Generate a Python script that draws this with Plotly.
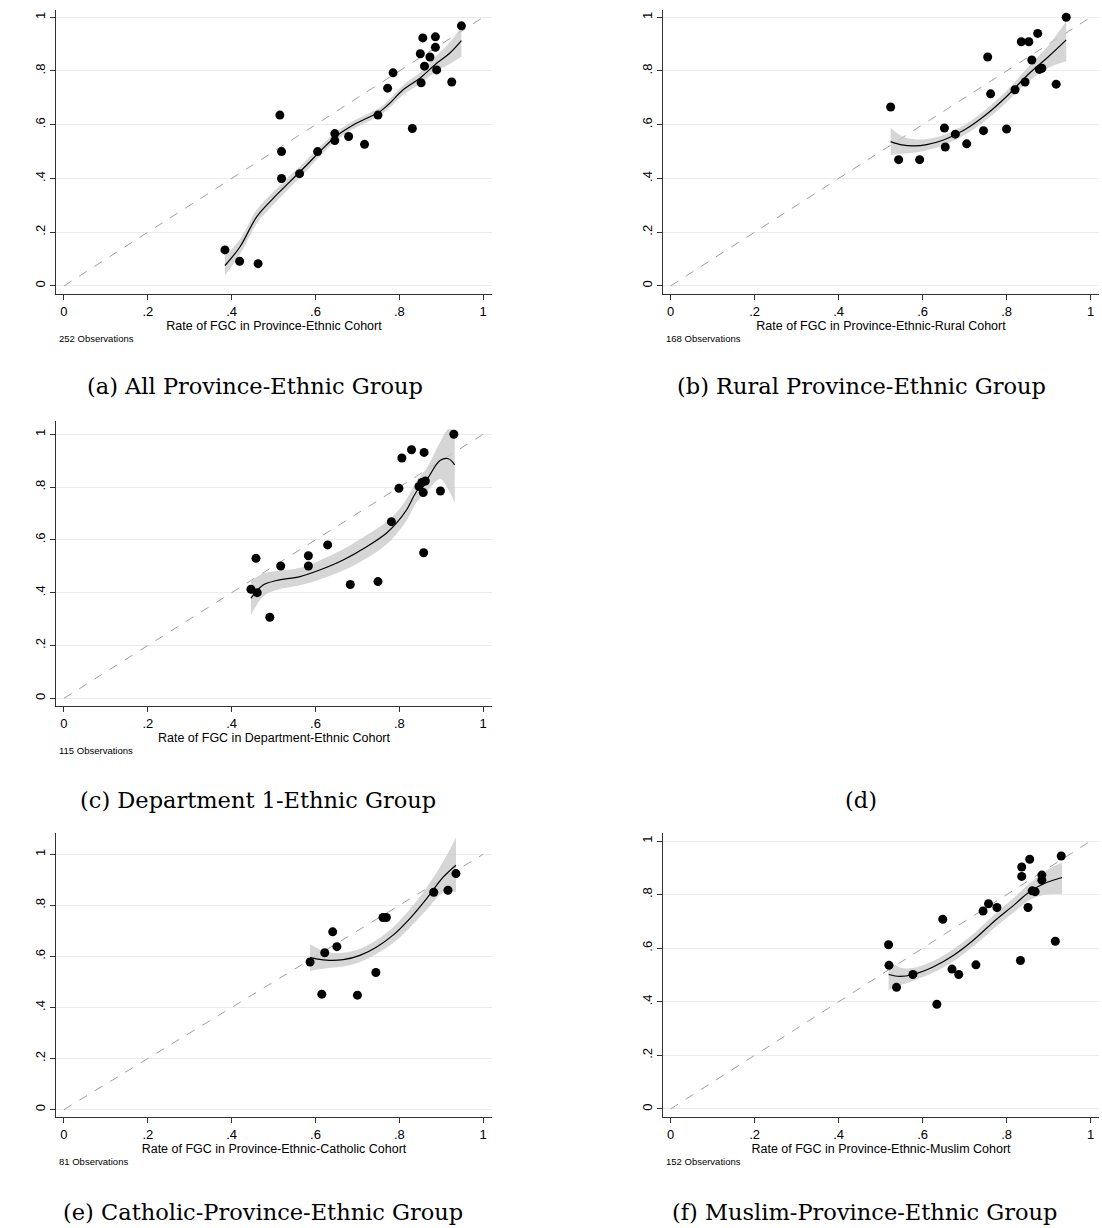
import plotly.graph_objects as go

W, H = 1102, 1228

# ---------------- data ----------------
# (a) All Province-Ethnic Group
a_x = [0.384, 0.419, 0.463, 0.515, 0.519, 0.519, 0.562, 0.605, 0.646, 0.646, 0.679, 0.717, 0.749,
       0.772, 0.785, 0.831, 0.850, 0.852, 0.856, 0.860, 0.873, 0.886, 0.886, 0.889, 0.925, 0.948]
a_y = [0.134, 0.092, 0.083, 0.636, 0.500, 0.400, 0.418, 0.500, 0.567, 0.541, 0.556, 0.527, 0.636,
       0.736, 0.793, 0.586, 0.864, 0.756, 0.923, 0.818, 0.852, 0.927, 0.888, 0.804, 0.759, 0.968]
a_fx = [0.384, 0.420, 0.460, 0.499, 0.539, 0.579, 0.610, 0.650, 0.690, 0.730, 0.754, 0.777, 0.809, 0.849, 0.889, 0.920, 0.948]
a_fy = [0.076, 0.146, 0.258, 0.326, 0.388, 0.450, 0.500, 0.558, 0.599, 0.630, 0.649, 0.680, 0.730, 0.773, 0.829, 0.866, 0.913]
a_lo = [0.040, 0.118, 0.232, 0.302, 0.366, 0.430, 0.482, 0.542, 0.584, 0.615, 0.634, 0.664, 0.712, 0.752, 0.800, 0.826, 0.853]
a_hi = [0.112, 0.174, 0.284, 0.350, 0.410, 0.470, 0.518, 0.574, 0.614, 0.645, 0.664, 0.696, 0.748, 0.794, 0.858, 0.906, 0.965]

# (b) Rural Province-Ethnic Group
b_x = [0.524, 0.543, 0.593, 0.652, 0.654, 0.678, 0.705, 0.745, 0.755, 0.762, 0.800, 0.820, 0.835,
       0.844, 0.853, 0.860, 0.874, 0.878, 0.884, 0.918, 0.942]
b_y = [0.666, 0.470, 0.470, 0.588, 0.517, 0.565, 0.529, 0.578, 0.852, 0.715, 0.584, 0.730, 0.909,
       0.759, 0.909, 0.841, 0.940, 0.806, 0.810, 0.751, 1.000]
b_fx = [0.524, 0.550, 0.580, 0.610, 0.650, 0.700, 0.750, 0.800, 0.850, 0.900, 0.942]
b_fy = [0.537, 0.525, 0.521, 0.526, 0.543, 0.581, 0.636, 0.705, 0.785, 0.854, 0.916]
b_lo = [0.486, 0.492, 0.496, 0.505, 0.524, 0.562, 0.616, 0.684, 0.758, 0.812, 0.836]
b_hi = [0.588, 0.558, 0.546, 0.547, 0.562, 0.600, 0.656, 0.726, 0.812, 0.896, 0.985]

# (c) Department 1-Ethnic Group
c_x = [0.446, 0.458, 0.461, 0.491, 0.517, 0.583, 0.583, 0.629, 0.683, 0.749, 0.781, 0.799, 0.806,
       0.829, 0.847, 0.854, 0.857, 0.858, 0.859, 0.862, 0.898, 0.930]
c_y = [0.413, 0.530, 0.400, 0.307, 0.501, 0.540, 0.501, 0.581, 0.431, 0.442, 0.669, 0.795, 0.910,
       0.941, 0.802, 0.817, 0.779, 0.551, 0.931, 0.823, 0.785, 1.000]
c_fx = [0.446, 0.475, 0.507, 0.563, 0.610, 0.666, 0.722, 0.769, 0.793, 0.817, 0.841, 0.865, 0.897, 0.917, 0.932]
c_fy = [0.379, 0.429, 0.446, 0.461, 0.486, 0.524, 0.574, 0.625, 0.663, 0.713, 0.783, 0.827, 0.900, 0.907, 0.884]
c_lo = [0.315, 0.385, 0.410, 0.428, 0.450, 0.484, 0.530, 0.582, 0.622, 0.672, 0.742, 0.782, 0.830, 0.790, 0.740]
c_hi = [0.445, 0.473, 0.482, 0.494, 0.522, 0.564, 0.618, 0.668, 0.704, 0.754, 0.824, 0.872, 0.970, 1.020, 1.015]

# (e) Catholic-Province-Ethnic Group
e_x = [0.587, 0.615, 0.622, 0.641, 0.651, 0.700, 0.744, 0.761, 0.769, 0.882, 0.916, 0.935]
e_y = [0.578, 0.452, 0.614, 0.696, 0.638, 0.448, 0.537, 0.752, 0.752, 0.851, 0.859, 0.924]
e_fx = [0.587, 0.626, 0.666, 0.706, 0.746, 0.785, 0.825, 0.865, 0.905, 0.935]
e_fy = [0.595, 0.585, 0.587, 0.604, 0.637, 0.683, 0.748, 0.826, 0.911, 0.957]
e_lo = [0.543, 0.553, 0.560, 0.578, 0.610, 0.652, 0.712, 0.782, 0.850, 0.852]
e_hi = [0.647, 0.617, 0.614, 0.630, 0.664, 0.714, 0.784, 0.870, 0.972, 1.065]

# (f) Muslim-Province-Ethnic Group
f_x = [0.519, 0.520, 0.538, 0.577, 0.634, 0.648, 0.670, 0.686, 0.727, 0.744, 0.757, 0.777, 0.833,
       0.836, 0.836, 0.851, 0.855, 0.861, 0.868, 0.884, 0.884, 0.916, 0.930]
f_y = [0.613, 0.536, 0.454, 0.502, 0.391, 0.708, 0.522, 0.502, 0.538, 0.739, 0.766, 0.752, 0.554,
       0.903, 0.868, 0.752, 0.932, 0.814, 0.811, 0.873, 0.854, 0.626, 0.944]
f_fx = [0.519, 0.546, 0.577, 0.625, 0.673, 0.720, 0.768, 0.816, 0.855, 0.895, 0.932]
f_fy = [0.502, 0.495, 0.502, 0.530, 0.573, 0.629, 0.697, 0.759, 0.811, 0.845, 0.864]
f_lo = [0.443, 0.462, 0.478, 0.508, 0.550, 0.606, 0.672, 0.732, 0.780, 0.800, 0.802]
f_hi = [0.557, 0.528, 0.526, 0.552, 0.596, 0.652, 0.722, 0.786, 0.842, 0.890, 0.920]

tick_vals = [0, 0.2, 0.4, 0.6, 0.8, 1]
tick_text = ["0", ".2", ".4", ".6", ".8", "1"]
diag = [0, 1]

x_titles = ["Rate of FGC in Province-Ethnic Cohort",
            "Rate of FGC in Province-Ethnic-Rural Cohort",
            "Rate of FGC in Department-Ethnic Cohort",
            "Rate of FGC in Province-Ethnic-Catholic Cohort",
            "Rate of FGC in Province-Ethnic-Muslim Cohort"]
obs_notes = ["252 Observations", "168 Observations", "115 Observations", "81 Observations", "152 Observations"]
captions = ["(a) All Province-Ethnic Group", "(b) Rural Province-Ethnic Group",
            "(c) Department 1-Ethnic Group", "(d)",
            "(e) Catholic-Province-Ethnic Group", "(f) Muslim-Province-Ethnic Group"]

# ---------------- layout geometry (pixels) ----------------
panels = [
    dict(d=(a_x, a_y, a_fx, a_fy, a_lo, a_hi), px=(56, 492), py=(10, 294), xr=(-0.019, 1.021), yr=(-0.030, 1.027)),
    dict(d=(b_x, b_y, b_fx, b_fy, b_lo, b_hi), px=(663, 1099), py=(10, 294), xr=(-0.018, 1.020), yr=(-0.030, 1.027)),
    dict(d=(c_x, c_y, c_fx, c_fy, c_lo, c_hi), px=(56, 492), py=(421, 706), xr=(-0.019, 1.021), yr=(-0.029, 1.050)),
    dict(d=(e_x, e_y, e_fx, e_fy, e_lo, e_hi), px=(56, 492), py=(833, 1117), xr=(-0.019, 1.021), yr=(-0.029, 1.083)),
    dict(d=(f_x, f_y, f_fx, f_fy, f_lo, f_hi), px=(663, 1099), py=(833, 1117), xr=(-0.018, 1.020), yr=(-0.030, 1.030)),
]

FONT = "Liberation Sans, Arial, Helvetica, sans-serif"
SERIF = "DejaVu Serif, Liberation Serif, serif"
GRID = "#e6eeef"
AXC = "#333333"

fig = go.Figure()
layout = dict(width=W, height=H, margin=dict(l=0, r=0, t=0, b=0),
              paper_bgcolor="white", plot_bgcolor="white", showlegend=False,
              font=dict(family=FONT, color="black"))
annotations = []

for i, p in enumerate(panels):
    n = "" if i == 0 else str(i + 1)
    xa, ya = "x" + n, "y" + n
    px0, px1 = p["px"]
    py0, py1 = p["py"]
    xs, ys, fx, fy, lo, hi = p["d"]

    layout["xaxis" + n] = dict(domain=[px0 / W, px1 / W], range=list(p["xr"]), anchor=ya,
                               tickvals=tick_vals, ticktext=tick_text, ticks="outside", ticklen=5,
                               tickcolor=AXC, showline=True, linecolor=AXC, linewidth=1,
                               showgrid=False, zeroline=False, tickfont=dict(size=13),
                               ticklabeloverflow="allow",
                               title=dict(text=x_titles[i], font=dict(size=12.5), standoff=0))
    layout["yaxis" + n] = dict(domain=[1 - py1 / H, 1 - py0 / H], range=list(p["yr"]), anchor=xa,
                               tickvals=tick_vals, ticktext=tick_text, ticks="outside", ticklen=5,
                               tickcolor=AXC, showline=True, linecolor=AXC, linewidth=1,
                               showgrid=True, gridcolor=GRID, gridwidth=1, zeroline=False,
                               tickangle=-90, tickfont=dict(size=13), ticklabeloverflow="allow")

    # 45-degree reference line
    fig.add_trace(go.Scatter(x=diag, y=diag, mode="lines", xaxis=xa, yaxis=ya,
                             line=dict(color="#a0a0a0", width=1, dash="dash"), hoverinfo="skip"))
    # confidence band
    fig.add_trace(go.Scatter(x=fx, y=lo, mode="lines", xaxis=xa, yaxis=ya,
                             line=dict(width=0, shape="spline"), hoverinfo="skip"))
    fig.add_trace(go.Scatter(x=fx, y=hi, mode="lines", xaxis=xa, yaxis=ya, fill="tonexty",
                             fillcolor="rgba(200,200,200,0.75)",
                             line=dict(width=0, shape="spline"), hoverinfo="skip"))
    # fitted line
    fig.add_trace(go.Scatter(x=fx, y=fy, mode="lines", xaxis=xa, yaxis=ya,
                             line=dict(color="black", width=1.2, shape="spline")))
    # points
    fig.add_trace(go.Scatter(x=xs, y=ys, mode="markers", xaxis=xa, yaxis=ya,
                             marker=dict(color="black", size=9, line=dict(width=0))))

    annotations.append(dict(text=obs_notes[i], xref="paper", yref="paper",
                            x=(px0 + 1) / W, y=1 - (py1 + 44) / H, xanchor="left", yanchor="middle",
                            showarrow=False, font=dict(size=9.5, family=FONT)))

cap_pos = [(255, 386), (861, 386), (258, 800), (861, 800), (263, 1212), (864, 1212)]
for txt, (cx, cy) in zip(captions, cap_pos):
    annotations.append(dict(text=txt, xref="paper", yref="paper", x=cx / W, y=1 - cy / H,
                            xanchor="center", yanchor="middle", showarrow=False,
                            font=dict(size=22.5, family=SERIF, color="black")))

layout["annotations"] = annotations
fig.update_layout(**layout)
fig.write_html("out.html", post_script="document.body.style.margin='0';",
               config={"displayModeBar": False})
